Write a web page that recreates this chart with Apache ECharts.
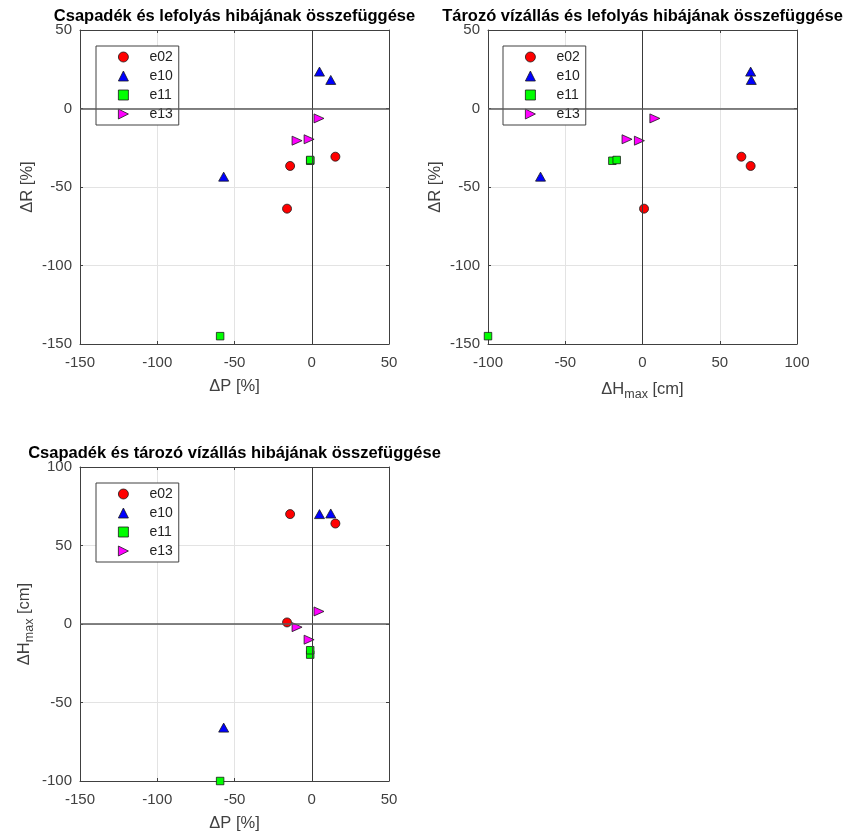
<!DOCTYPE html>
<html>
<head>
<meta charset="utf-8">
<script src="https://cdn.jsdelivr.net/npm/echarts@6/dist/echarts.min.js"></script>
<style>
html,body{margin:0;padding:0;background:#fff;}
#chart{width:846px;height:833px;}
</style>
</head>
<body>
<div id="chart"></div>
<script>
// ---- data ----
const experiments = ['e02', 'e10', 'e11', 'e13'];
// ΔP [%], ΔR [%], ΔHmax [cm] for each run of each experiment
const e02_dP = [-14, -16, 15.3];
const e02_dR = [-36.6, -63.8, -30.7];
const e02_dH = [70, 1, 64];
const e10_dP = [5, 12.3, -57];
const e10_dR = [23.5, 18.2, -43.4];
const e10_dH = [70, 70.4, -66];
const e11_dP = [-1, -1, -59.3];
const e11_dR = [-33.3, -32.8, -145];
const e11_dH = [-19.5, -16.7, -100];
const e13_dP = [-9.5, -1.7, 4.7];
const e13_dR = [-20.5, -19.6, -6.3];
const e13_dH = [-2, -10, 8];

const xTicksP = [-150, -100, -50, 0, 50];
const xTicksH = [-100, -50, 0, 50, 100];
const yTicksR = [-150, -100, -50, 0, 50];
const yTicksH = [-100, -50, 0, 50, 100];

const titles = [
  'Csapadék és lefolyás hibájának összefüggése',
  'Tározó vízállás és lefolyás hibájának összefüggése',
  'Csapadék és tározó vízállás hibájának összefüggése'
];

const seriesData = {
  e02: {P: e02_dP, R: e02_dR, H: e02_dH},
  e10: {P: e10_dP, R: e10_dR, H: e10_dH},
  e11: {P: e11_dP, R: e11_dR, H: e11_dH},
  e13: {P: e13_dP, R: e13_dR, H: e13_dH}
};

// ---- styles ----
const FONT = '"Liberation Sans", Arial, Helvetica, sans-serif';
const AX = '#404040';
const styles = {
  e02: {symbol: 'circle', symbolSize: 9, color: '#ff0000', rotate: 0, icon: 'circle'},
  e10: {symbol: 'triangle', symbolSize: [10, 9], color: '#0000ff', rotate: 0, icon: 'triangle'},
  e11: {symbol: 'rect', symbolSize: 7.5, color: '#00ff00', rotate: 0, icon: 'path://M1.5,1.5L8.5,1.5L8.5,8.5L1.5,8.5Z'},
  e13: {symbol: 'triangle', symbolSize: [9, 10], color: '#ff00ff', rotate: -90, icon: 'path://M0,0L10,5L0,10Z'}
};

const grids = [
  {left: 80, top: 30, width: 309, height: 314},
  {left: 488, top: 30, width: 309, height: 314},
  {left: 80, top: 467, width: 309, height: 314}
];
// which variable on x / y in each panel
const panels = [
  {x: 'P', y: 'R', xTicks: xTicksP, yTicks: yTicksR},
  {x: 'H', y: 'R', xTicks: xTicksH, yTicks: yTicksR},
  {x: 'P', y: 'H', xTicks: xTicksP, yTicks: yTicksH}
];
const axisNames = {
  P: '{a|ΔP [%]}',
  R: '{a|ΔR [%]}',
  H: '{a|ΔH}{s|max}{a| [cm]}'
};
const nameRich = {
  a: {fontSize: 16.5, color: AX, fontFamily: FONT},
  s: {fontSize: 12.5, color: AX, fontFamily: FONT, padding: [10, 0, 0, 0]}
};

const xAxes = [], yAxes = [], series = [], legends = [], titleComps = [];

// measure text for centring titles over their axes
const TITLE_SIZE = 16.5;
const ctx = document.createElement('canvas').getContext('2d');
ctx.font = 'bold ' + TITLE_SIZE + 'px ' + FONT;

panels.forEach((p, g) => {
  const gr = grids[g];
  const xmin = p.xTicks[0], xmax = p.xTicks[p.xTicks.length - 1];
  const ymin = p.yTicks[0], ymax = p.yTicks[p.yTicks.length - 1];
  const common = {
    gridIndex: g, type: 'value', interval: 50,
    axisLine: {show: true, onZero: false, lineStyle: {color: AX, width: 1}},
    axisTick: {show: true, inside: true, length: 3, lineStyle: {color: AX}},
  };
  xAxes.push(Object.assign({}, common, {
    position: 'bottom', min: xmin, max: xmax,
    name: axisNames[p.x], nameLocation: 'middle', nameGap: 34,
    nameTextStyle: {rich: nameRich},
    axisLabel: {color: AX, fontSize: 15, fontFamily: FONT, margin: 11},
    splitLine: {show: true, lineStyle: {color: '#e3e3e3', width: 1}}
  }));
  xAxes.push(Object.assign({}, common, {
    position: 'top', min: xmin, max: xmax,
    axisLabel: {show: false}, splitLine: {show: false}
  }));
  yAxes.push(Object.assign({}, common, {
    position: 'left', min: ymin, max: ymax,
    name: axisNames[p.y], nameLocation: 'middle', nameGap: 44,
    nameTextStyle: {rich: nameRich},
    axisLabel: {color: AX, fontSize: 15, fontFamily: FONT, margin: 8},
    splitLine: {show: true, lineStyle: {color: '#e3e3e3', width: 1}}
  }));
  yAxes.push(Object.assign({}, common, {
    position: 'right', min: ymin, max: ymax,
    axisLabel: {show: false}, splitLine: {show: false}
  }));

  // zero lines
  series.push({
    type: 'scatter', name: '_zero' + g, xAxisIndex: 2 * g, yAxisIndex: 2 * g,
    data: [], z: 1, silent: true,
    markLine: {
      silent: true, symbol: 'none', animation: false, label: {show: false},
      data: [
        {xAxis: 0, lineStyle: {color: '#3a3a3a', width: 1, type: 'solid'}},
        {yAxis: 0, lineStyle: {color: '#5a5a5a', width: 1.5, type: 'solid'}}
      ]
    }
  });

  experiments.forEach(name => {
    const d = seriesData[name], s = styles[name];
    const pts = d[p.x].map((v, i) => [v, d[p.y][i]]);
    series.push({
      type: 'scatter', name: name, xAxisIndex: 2 * g, yAxisIndex: 2 * g,
      data: pts, symbol: s.symbol, symbolSize: s.symbolSize, symbolRotate: s.rotate,
      z: 3, animation: false,
      itemStyle: {color: s.color, borderColor: '#1a1a1a', borderWidth: 0.8, opacity: 1}
    });
  });

  legends.push({
    data: experiments.map(n => ({name: n, icon: styles[n].icon})),
    orient: 'vertical',
    left: gr.left + (g === 1 ? 15 : 16), top: gr.top + 16,
    itemWidth: 10, itemHeight: 10, itemGap: 5,
    padding: [4, 6, 4, 22],
    borderColor: '#404040', borderWidth: 1, backgroundColor: '#fff',
    itemStyle: {borderWidth: 0.8, borderColor: '#1a1a1a'},
    textStyle: {fontSize: 14, fontFamily: FONT, color: '#222', lineHeight: 14, padding: [0, 0, 0, 16]},
    selectedMode: false, z: 5
  });

  const w = ctx.measureText(titles[g]).width;
  titleComps.push({
    text: titles[g], left: gr.left + gr.width / 2 - w / 2, top: gr.top - 22, padding: 0,
    textStyle: {fontSize: TITLE_SIZE, fontWeight: 'bold', color: '#000', fontFamily: FONT}
  });
});

const chart = echarts.init(document.getElementById('chart'), null, {renderer: 'canvas'});
chart.setOption({
  backgroundColor: '#fff',
  animation: false,
  title: titleComps,
  grid: grids,
  xAxis: xAxes,
  yAxis: yAxes,
  legend: legends,
  series: series
});
</script>
</body>
</html>
